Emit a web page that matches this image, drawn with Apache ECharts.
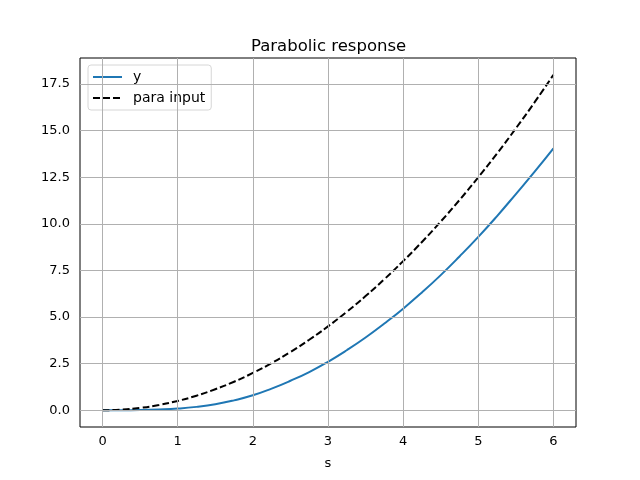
<!DOCTYPE html>
<html lang="en">

<head>
    <meta charset="UTF-8">
    <title>Parabolic response</title>
    <script type="text/javascript" src="https://cdn.jsdelivr.net/npm/echarts@6/dist/echarts.min.js"></script>
    <style>
        html,
        body {
            margin: 0;
            padding: 0;
            width: 100%;
            height: 100%;
            background: #fff;
        }

        #container {
            width: 640px;
            height: 480px;
        }
    </style>
</head>

<body>
    <div id="container"></div>
    <script>
        // values
        let time = [0, 0.25, 0.5, 0.75, 1, 1.25, 1.5, 1.75, 2, 2.25, 2.5, 2.75, 3,
            3.25, 3.5, 3.75, 4, 4.25, 4.5, 4.75, 5, 5.25, 5.5, 5.75, 6];
        let y = [0, 0, 0.01, 0.04, 0.09, 0.18, 0.32, 0.53, 0.8, 1.16, 1.58, 2.05, 2.6,
            3.22, 3.9, 4.65, 5.45, 6.32, 7.25, 8.25, 9.3, 10.42, 11.6, 12.8, 14.05];
        let paraInput = [0, 0.03, 0.125, 0.28, 0.5, 0.78, 1.125, 1.53, 2, 2.53, 3.125, 3.78, 4.5,
            5.28, 6.125, 7.03, 8, 9.03, 10.125, 11.28, 12.5, 13.78, 15.125, 16.53, 18];
        let xTicks = [0, 1, 2, 3, 4, 5, 6];
        let yTicks = [0, 2.5, 5, 7.5, 10, 12.5, 15, 17.5];

        let font = 'DejaVu Sans';
        let chart = echarts.init(document.getElementById('container'));

        function pairs(values) {
            return time.map((t, i) => [t, values[i]]);
        }

        let option = {
            animation: false,
            textStyle: { fontFamily: font },
            title: {
                text: 'Parabolic response',
                left: 246,
                top: 33,
                textStyle: { fontFamily: font, fontSize: 16.5, fontWeight: 'normal', color: '#000' },
            },
            legend: {
                orient: 'vertical',
                left: 88,
                top: 65,
                padding: [5, 6, 5, 4],
                itemWidth: 29,
                itemHeight: 14,
                itemGap: 7,
                itemStyle: { opacity: 0 },
                backgroundColor: 'rgba(255,255,255,0.8)',
                borderColor: '#d6d6d6',
                borderWidth: 1,
                borderRadius: 3,
                textStyle: { fontFamily: font, fontSize: 14, color: '#000', padding: [0, 0, 0, 6] },
                data: ['y', 'para input'],
            },
            grid: {
                left: 80,
                right: 64,
                top: 58,
                bottom: 53,
                show: true,
                borderColor: '#000',
                borderWidth: 1,
            },
            xAxis: {
                type: 'value',
                min: -0.3,
                max: 6.3,
                name: 's',
                nameLocation: 'middle',
                nameGap: 30,
                nameTextStyle: { fontFamily: font, fontSize: 13, color: '#000' },
                axisLine: { show: false },
                axisTick: { show: true, length: 5, lineStyle: { color: '#000' }, customValues: xTicks },
                axisLabel: { fontFamily: font, fontSize: 13, color: '#000', margin: 8, customValues: xTicks },
                splitLine: { show: false },
            },
            yAxis: {
                type: 'value',
                min: -0.9,
                max: 18.9,
                axisLine: { show: false },
                axisTick: { show: true, length: 5, lineStyle: { color: '#000' }, customValues: yTicks },
                axisLabel: {
                    fontFamily: font, fontSize: 13, color: '#000', margin: 10, customValues: yTicks,
                    formatter: v => v.toFixed(1),
                },
                splitLine: { show: false },
            },
            series: [{
                    name: 'y',
                    type: 'line',
                    smooth: true,
                    symbol: 'none',
                    color: '#1f77b4',
                    lineStyle: { width: 2, color: '#1f77b4' },
                    data: pairs(y),
                    z: 3,
                },
                {
                    name: 'para input',
                    type: 'line',
                    smooth: true,
                    symbol: 'none',
                    color: '#000',
                    lineStyle: { width: 2, color: '#000', type: [7, 3] },
                    data: pairs(paraInput),
                    z: 3,
                },
                {
                    // grid lines at the tick values
                    name: 'grid',
                    type: 'line',
                    data: [],
                    silent: true,
                    markLine: {
                        silent: true,
                        symbol: 'none',
                        label: { show: false },
                        lineStyle: { color: '#b0b0b0', width: 1, type: 'solid' },
                        data: xTicks.map(v => ({ xAxis: v })).concat(yTicks.map(v => ({ yAxis: v }))),
                    },
                    z: 1,
                },
            ]
        };
        chart.setOption(option);
    </script>
</body>

</html>
